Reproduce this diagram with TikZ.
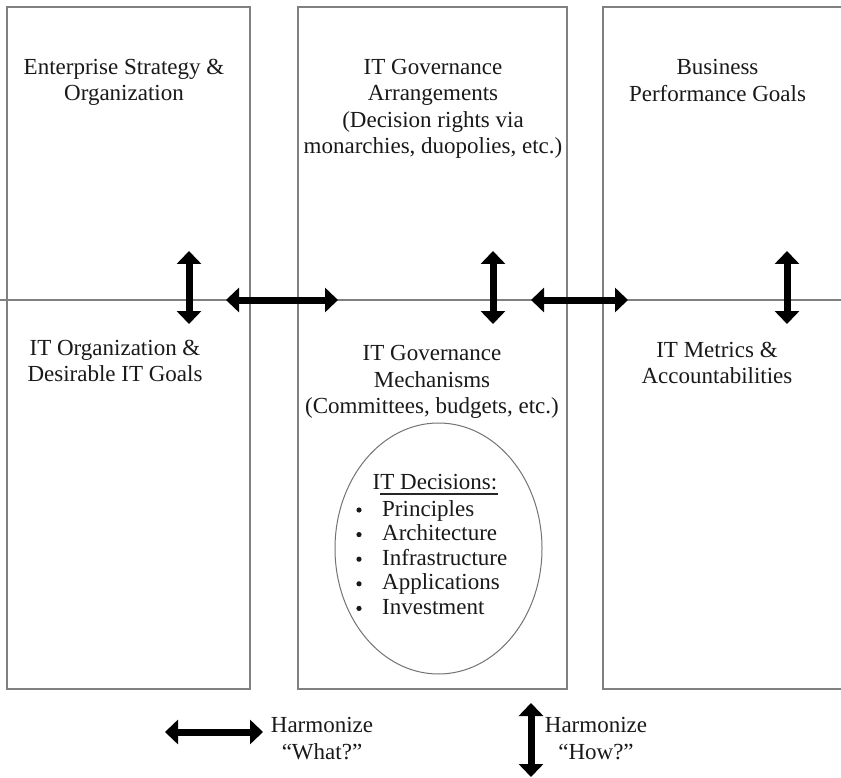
\documentclass[tikz,border=0pt]{standalone}
\usepackage{fontspec}
\setmainfont{Liberation Serif}
\usetikzlibrary{arrows.meta,shapes.geometric}

\tikzset{
  panel/.style={draw=black!50, line width=1.4pt},
  divider/.style={draw=black!50, line width=1.4pt},
  label/.style={font=\fontsize{23}{26.5}\selectfont, align=center, inner sep=0pt, text=black!90},
  itemtext/.style={font=\fontsize{23}{24.6}\selectfont, inner sep=0pt, anchor=base west, text=black!90},
  harmony/.style={line width=7pt, {Triangle[width=24pt,length=13pt]}-{Triangle[width=24pt,length=13pt]}},
  oval/.style={ellipse, draw=black!55, line width=1pt, minimum width=207pt, minimum height=251pt, inner sep=0pt},
}

\begin{document}
\begin{tikzpicture}[x=1pt, y=-1pt]
  \useasboundingbox (0,0) rectangle (841,778);
  \fill[white] (0,0) rectangle (841,778);

  % three columns
  \draw[panel] (7,7) rectangle (250,689);
  \draw[panel] (298,7) rectangle (567,689);
  \draw[panel] (846,7) -- (603,7) -- (603,689) -- (846,689);

  % row divider
  \draw[divider] (0,300) -- (841,300);

  % upper row
  \node[label] (strategy) at (124,82.5) {Enterprise Strategy \&\\Organization};
  \node[label] (arrange) at (433,109) {IT Governance\\Arrangements\\(Decision rights via\\monarchies, duopolies, etc.)};
  \node[label] (business) at (717.5,80.5) {Business\\Performance Goals};

  % lower row
  \node[label] (itorg) at (115,361) {IT Organization \&\\Desirable IT Goals};
  \node[label] (mech) at (432,382) {IT Governance\\Mechanisms\\(Committees, budgets, etc.)};
  \node[label] (metrics) at (717,363) {IT Metrics \&\\Accountabilities};

  % IT decisions oval
  \node[oval] (decisions) at (438.5,548.5) {};
  \node[label] (dectitle) at (435,482.5) {IT Decisions:};
  \draw[line width=2.6pt, black!85] (380,494) -- (498,494);
  \foreach \name/\txt [count=\i] in {p/Principles, a/Architecture, inf/Infrastructure, app/Applications, inv/Investment}{
    \node[itemtext] (item-\name) at (382,{516+24.6*(\i-1)}) {\txt};
    \fill[black!90] (359,{510+24.6*(\i-1)}) circle (2.6pt);
  }

  % harmonizing arrows
  \coordinate (v1t) at (189,251); \coordinate (v1b) at (189,324);
  \coordinate (v2t) at (493,251); \coordinate (v2b) at (493,324);
  \coordinate (v3t) at (787,251); \coordinate (v3b) at (787,324);
  \coordinate (h1l) at (226,300); \coordinate (h1r) at (338,300);
  \coordinate (h2l) at (531,300); \coordinate (h2r) at (628,300);
  \draw[harmony] (v1t) -- (v1b);
  \draw[harmony] (v2t) -- (v2b);
  \draw[harmony] (v3t) -- (v3b);
  \draw[harmony] (h1l) -- (h1r);
  \draw[harmony] (h2l) -- (h2r);

  % legend
  \coordinate (lgl) at (165,732); \coordinate (lgr) at (263,732);
  \coordinate (lgt) at (531,703); \coordinate (lgb) at (531,777);
  \draw[harmony] (lgl) -- (lgr);
  \draw[harmony] (lgt) -- (lgb);
  \node[label] (what) at (322,738.5) {Harmonize\\“What?”};
  \node[label] (how) at (596,738.5) {Harmonize\\“How?”};
\end{tikzpicture}
\end{document}
